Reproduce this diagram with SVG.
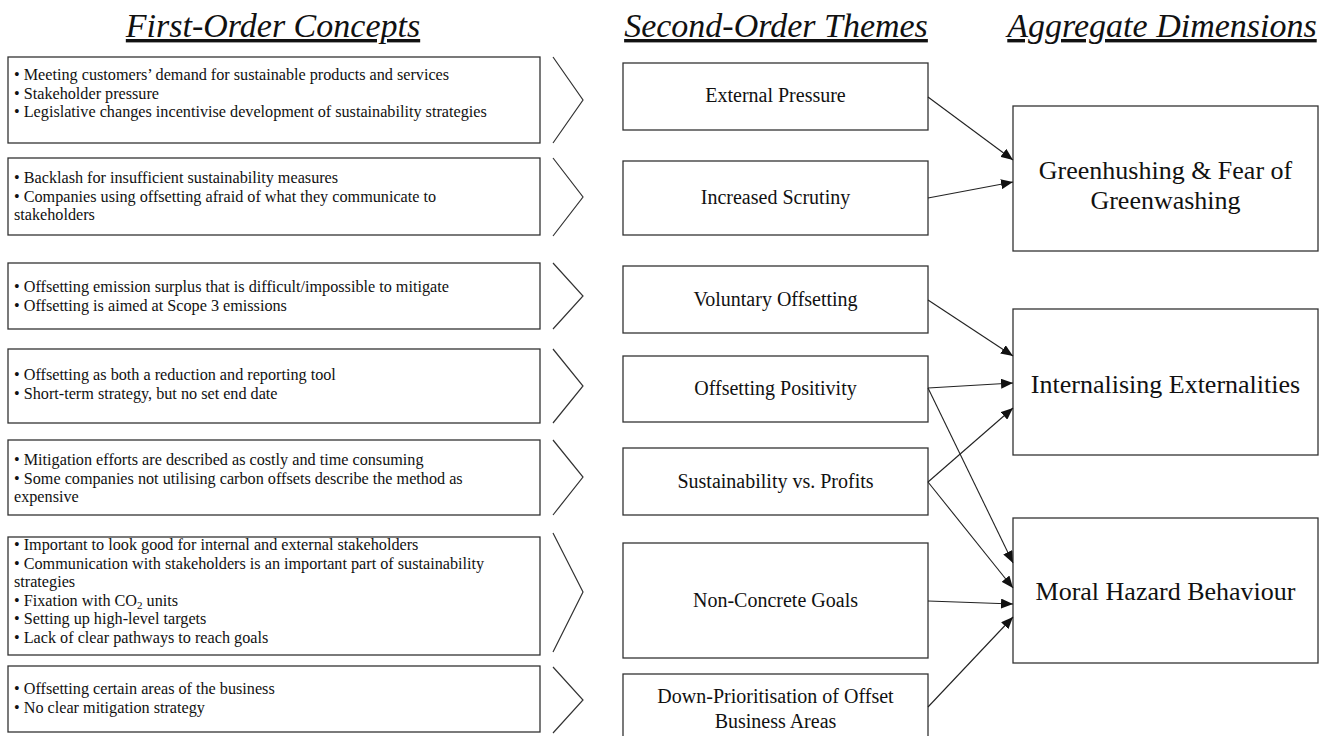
<svg xmlns="http://www.w3.org/2000/svg" width="1330" height="736" viewBox="0 0 1330 736">
<defs>
<style>
.bx{fill:#fff;stroke:#333;stroke-width:1.3}
.chev{fill:none;stroke:#333;stroke-width:1.2}
.hd{font-family:"Liberation Serif","Times New Roman",serif;font-style:italic;font-size:34px;fill:#111;text-anchor:middle;text-decoration:underline}
.lt{font-family:"Liberation Serif","Times New Roman",serif;font-size:16.2px;fill:#111}
.mt{font-family:"Liberation Serif","Times New Roman",serif;font-size:20px;fill:#111;text-anchor:middle}
.rt{font-family:"Liberation Serif","Times New Roman",serif;font-size:26px;fill:#111;text-anchor:middle}
.cn{stroke:#222;stroke-width:1.1;fill:none;marker-end:url(#ah)}
</style>
<marker id="ah" viewBox="0 0 12 10" refX="12" refY="5" markerWidth="12" markerHeight="10" markerUnits="userSpaceOnUse" orient="auto">
<path d="M0,0 L12,5 L0,10 Z" fill="#111"/>
</marker>
</defs>
<rect width="1330" height="736" fill="#fff"/>

<g id="headers">
<text class="hd" x="273" y="37">First-Order Concepts</text>
<text class="hd" x="776" y="37">Second-Order Themes</text>
<text class="hd" x="1162" y="37">Aggregate Dimensions</text>
</g>

<g id="c1">
<rect class="bx" x="8" y="57" width="532" height="86"/>
<text class="lt" x="14" y="80">• Meeting customers’ demand for sustainable products and services</text>
<text class="lt" x="14" y="98.5">• Stakeholder pressure</text>
<text class="lt" x="14" y="117">• Legislative changes incentivise development of sustainability strategies</text>
<polyline class="chev" points="553,57 583,100 553,143"/>
</g>
<g id="c2">
<rect class="bx" x="8" y="158" width="532" height="77"/>
<text class="lt" x="14" y="183">• Backlash for insufficient sustainability measures</text>
<text class="lt" x="14" y="201.5">• Companies using offsetting afraid of what they communicate to</text>
<text class="lt" x="14" y="220">stakeholders</text>
<polyline class="chev" points="553,158 583,197 553,236"/>
</g>
<g id="c3">
<rect class="bx" x="8" y="263" width="532" height="66"/>
<text class="lt" x="14" y="292">• Offsetting emission surplus that is difficult/impossible to mitigate</text>
<text class="lt" x="14" y="310.5">• Offsetting is aimed at Scope 3 emissions</text>
<polyline class="chev" points="553,263 583,296 553,329"/>
</g>
<g id="c4">
<rect class="bx" x="8" y="349" width="532" height="74"/>
<text class="lt" x="14" y="380">• Offsetting as both a reduction and reporting tool</text>
<text class="lt" x="14" y="398.5">• Short-term strategy, but no set end date</text>
<polyline class="chev" points="553,349 583,386 553,423"/>
</g>
<g id="c5">
<rect class="bx" x="8" y="440" width="532" height="75"/>
<text class="lt" x="14" y="465">• Mitigation efforts are described as costly and time consuming</text>
<text class="lt" x="14" y="483.5">• Some companies not utilising carbon offsets describe the method as</text>
<text class="lt" x="14" y="502">expensive</text>
<polyline class="chev" points="553,440 583,477 553,515"/>
</g>
<g id="c6">
<rect class="bx" x="8" y="537" width="532" height="118"/>
<text class="lt" x="14" y="550">• Important to look good for internal and external stakeholders</text>
<text class="lt" x="14" y="568.5">• Communication with stakeholders is an important part of sustainability</text>
<text class="lt" x="14" y="587">strategies</text>
<text class="lt" x="14" y="605.5">• Fixation with CO<tspan font-size="11" dy="3">2</tspan><tspan dy="-3"> units</tspan></text>
<text class="lt" x="14" y="624">• Setting up high-level targets</text>
<text class="lt" x="14" y="642.5">• Lack of clear pathways to reach goals</text>
<polyline class="chev" points="553,533 583,592 553,652"/>
</g>
<g id="c7">
<rect class="bx" x="8" y="666" width="532" height="66"/>
<text class="lt" x="14" y="694">• Offsetting certain areas of the business</text>
<text class="lt" x="14" y="712.5">• No clear mitigation strategy</text>
<polyline class="chev" points="553,667 583,700 553,733"/>
</g>

<g id="t1"><rect class="bx" x="623" y="63" width="305" height="67"/><text class="mt" x="775.5" y="102">External Pressure</text></g>
<g id="t2"><rect class="bx" x="623" y="161" width="305" height="74"/><text class="mt" x="775.5" y="204">Increased Scrutiny</text></g>
<g id="t3"><rect class="bx" x="623" y="266" width="305" height="67"/><text class="mt" x="775.5" y="305.5">Voluntary Offsetting</text></g>
<g id="t4"><rect class="bx" x="623" y="356" width="305" height="66"/><text class="mt" x="775.5" y="395">Offsetting Positivity</text></g>
<g id="t5"><rect class="bx" x="623" y="448" width="305" height="67"/><text class="mt" x="775.5" y="487.5">Sustainability vs. Profits</text></g>
<g id="t6"><rect class="bx" x="623" y="543" width="305" height="115"/><text class="mt" x="775.5" y="606.5">Non-Concrete Goals</text></g>
<g id="t7"><rect class="bx" x="623" y="674" width="305" height="70"/><text class="mt" x="775.5" y="703">Down-Prioritisation of Offset</text><text class="mt" x="775.5" y="728">Business Areas</text></g>

<g id="a1"><rect class="bx" x="1013" y="106" width="305" height="145"/><text class="rt" x="1165.5" y="179">Greenhushing &amp; Fear of</text><text class="rt" x="1165.5" y="209">Greenwashing</text></g>
<g id="a2"><rect class="bx" x="1013" y="309" width="305" height="146"/><text class="rt" x="1165.5" y="393">Internalising Externalities</text></g>
<g id="a3"><rect class="bx" x="1013" y="518" width="305" height="145"/><text class="rt" x="1165.5" y="600">Moral Hazard Behaviour</text></g>

<g id="connectors">
<line class="cn" x1="928" y1="97" x2="1013" y2="160"/>
<line class="cn" x1="928" y1="198" x2="1013" y2="182"/>
<line class="cn" x1="928" y1="300" x2="1013" y2="356"/>
<line class="cn" x1="928" y1="388" x2="1013" y2="383"/>
<line class="cn" x1="928" y1="388" x2="1013" y2="563"/>
<line class="cn" x1="928" y1="482" x2="1013" y2="408"/>
<line class="cn" x1="928" y1="482" x2="1013" y2="588"/>
<line class="cn" x1="928" y1="601" x2="1013" y2="604"/>
<line class="cn" x1="928" y1="707" x2="1013" y2="617"/>
</g>
</svg>
